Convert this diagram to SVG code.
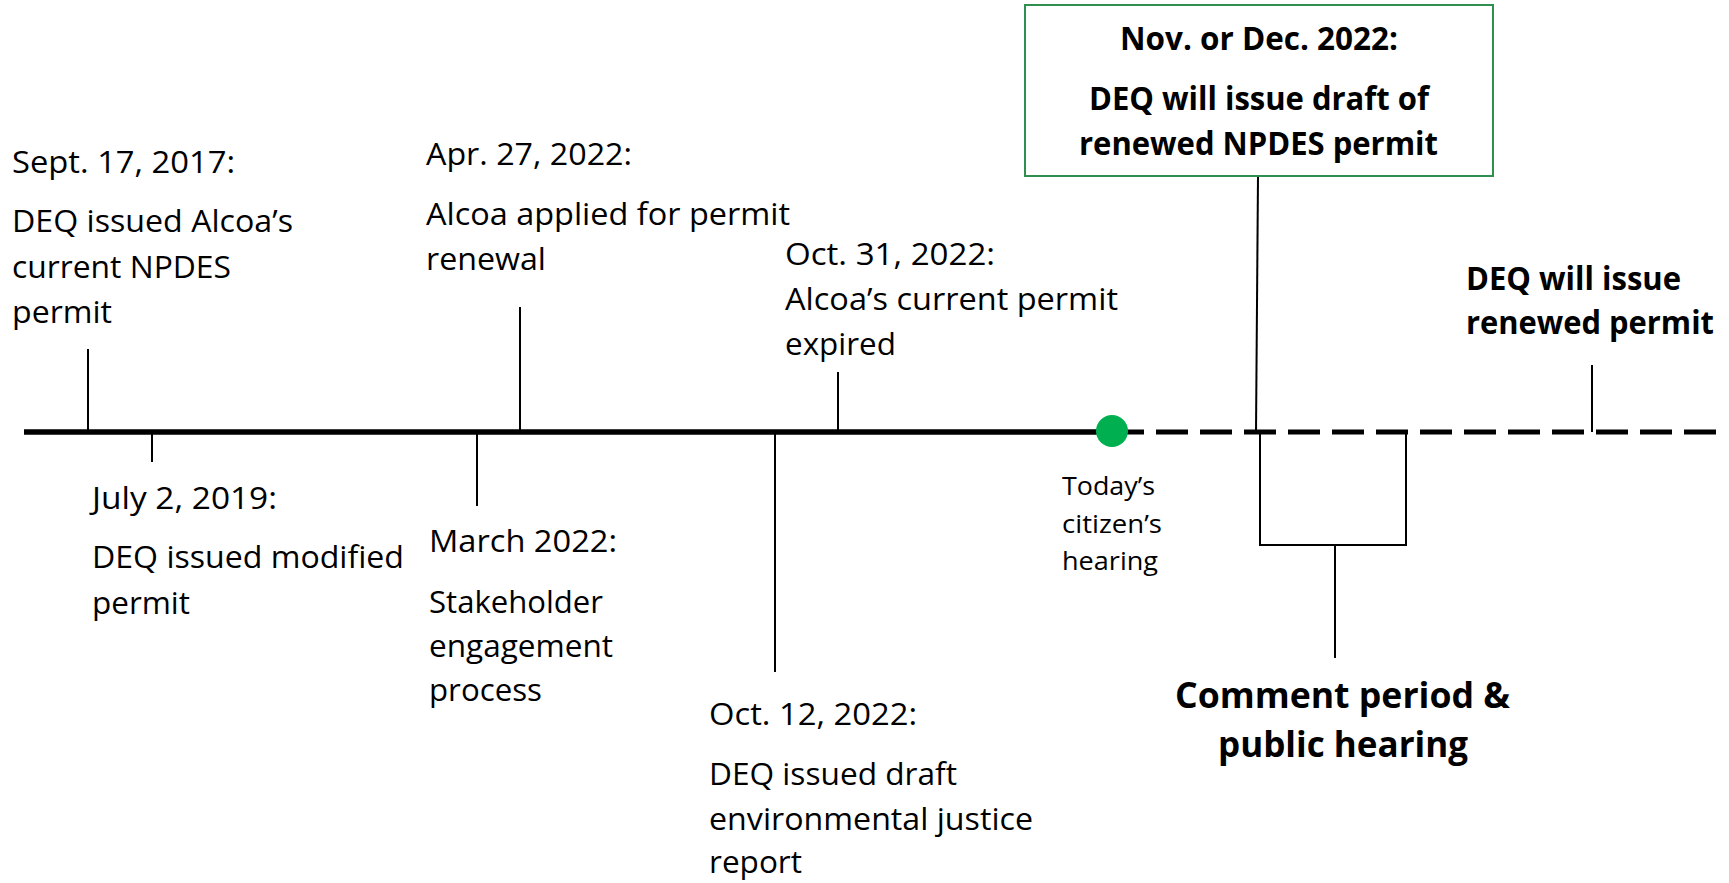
<svg xmlns="http://www.w3.org/2000/svg" width="1729" height="883" viewBox="0 0 1729 883">
<style>
  .t { font-family: "Open Sans", "Noto Sans", "Liberation Sans", sans-serif; font-size: 31px; fill: #000; }
  .s { font-family: "Open Sans", "Noto Sans", "Liberation Sans", sans-serif; font-size: 26px; fill: #000; }
  .b { font-family: "Open Sans", "Noto Sans", "Liberation Sans", sans-serif; font-size: 32px; font-weight: bold; fill: #000; }
  .bl { font-family: "Open Sans", "Noto Sans", "Liberation Sans", sans-serif; font-size: 35px; font-weight: bold; fill: #000; }
  .tick { stroke: #000; stroke-width: 2; fill: none; }
</style>
<rect width="1729" height="883" fill="#fff"/>

<g id="connectors">
  <line x1="24" y1="432" x2="1112" y2="432" stroke="#000" stroke-width="5.5"/>
  <line x1="1112" y1="432" x2="1716" y2="432" stroke="#000" stroke-width="5" stroke-dasharray="32 12"/>
  <line class="tick" x1="88" y1="349" x2="88" y2="432"/>
  <line class="tick" x1="152" y1="432" x2="152" y2="462"/>
  <line class="tick" x1="477" y1="432" x2="477" y2="506"/>
  <line class="tick" x1="520" y1="307" x2="520" y2="432"/>
  <line class="tick" x1="775" y1="432" x2="775" y2="672"/>
  <line class="tick" x1="838" y1="372" x2="838" y2="432"/>
  <line class="tick" x1="1258" y1="176" x2="1256" y2="432"/>
  <polyline class="tick" points="1260,432 1260,545 1406,545 1406,432"/>
  <line class="tick" x1="1335" y1="545" x2="1335" y2="658"/>
  <line class="tick" x1="1592" y1="365" x2="1592" y2="432"/>
</g>

<g id="today-marker">
  <circle cx="1112" cy="431" r="16" fill="#00b050"/>
</g>

<g id="node-sept2017">
  <text class="t" x="12" y="173" textLength="223" lengthAdjust="spacingAndGlyphs">Sept. 17, 2017:</text>
  <text class="t" x="12" y="232" textLength="281" lengthAdjust="spacingAndGlyphs">DEQ issued Alcoa’s</text>
  <text class="t" x="12" y="278" textLength="219" lengthAdjust="spacingAndGlyphs">current NPDES</text>
  <text class="t" x="12" y="323" textLength="100" lengthAdjust="spacingAndGlyphs">permit</text>
</g>

<g id="node-july2019">
  <text class="t" x="92" y="509" textLength="185" lengthAdjust="spacingAndGlyphs">July 2, 2019:</text>
  <text class="t" x="92" y="568" textLength="312" lengthAdjust="spacingAndGlyphs">DEQ issued modified</text>
  <text class="t" x="92" y="614" textLength="98" lengthAdjust="spacingAndGlyphs">permit</text>
</g>

<g id="node-apr2022">
  <text class="t" x="426" y="165" textLength="206" lengthAdjust="spacingAndGlyphs">Apr. 27, 2022:</text>
  <text class="t" x="426" y="225" textLength="364" lengthAdjust="spacingAndGlyphs">Alcoa applied for permit</text>
  <text class="t" x="426" y="270" textLength="120" lengthAdjust="spacingAndGlyphs">renewal</text>
</g>

<g id="node-march2022">
  <text class="t" x="429" y="552" textLength="188" lengthAdjust="spacingAndGlyphs">March 2022:</text>
  <text class="t" x="429" y="613" textLength="174" lengthAdjust="spacingAndGlyphs">Stakeholder</text>
  <text class="t" x="429" y="657" textLength="184" lengthAdjust="spacingAndGlyphs">engagement</text>
  <text class="t" x="429" y="701" textLength="113" lengthAdjust="spacingAndGlyphs">process</text>
</g>

<g id="node-oct31">
  <text class="t" x="785" y="265" textLength="210" lengthAdjust="spacingAndGlyphs">Oct. 31, 2022:</text>
  <text class="t" x="785" y="310" textLength="333" lengthAdjust="spacingAndGlyphs">Alcoa’s current permit</text>
  <text class="t" x="785" y="355" textLength="111" lengthAdjust="spacingAndGlyphs">expired</text>
</g>

<g id="node-oct12">
  <text class="t" x="709" y="725" textLength="208" lengthAdjust="spacingAndGlyphs">Oct. 12, 2022:</text>
  <text class="t" x="709" y="785" textLength="248" lengthAdjust="spacingAndGlyphs">DEQ issued draft</text>
  <text class="t" x="709" y="830" textLength="324" lengthAdjust="spacingAndGlyphs">environmental justice</text>
  <text class="t" x="709" y="873" textLength="93" lengthAdjust="spacingAndGlyphs">report</text>
</g>

<g id="node-today">
  <text class="s" x="1062" y="495" textLength="93" lengthAdjust="spacingAndGlyphs">Today’s</text>
  <text class="s" x="1062" y="533" textLength="100" lengthAdjust="spacingAndGlyphs">citizen’s</text>
  <text class="s" x="1062" y="570" textLength="96" lengthAdjust="spacingAndGlyphs">hearing</text>
</g>

<g id="node-draft-permit">
  <rect x="1025" y="5" width="468" height="171" fill="#fff" stroke="#2f8f4f" stroke-width="2"/>
  <text class="b" x="1120" y="50" textLength="278" lengthAdjust="spacingAndGlyphs">Nov. or Dec. 2022:</text>
  <text class="b" x="1089" y="110" textLength="340" lengthAdjust="spacingAndGlyphs">DEQ will issue draft of</text>
  <text class="b" x="1079" y="155" textLength="359" lengthAdjust="spacingAndGlyphs">renewed NPDES permit</text>
</g>

<g id="node-renewed">
  <text class="b" x="1466" y="290" textLength="215" lengthAdjust="spacingAndGlyphs">DEQ will issue</text>
  <text class="b" x="1466" y="334" textLength="248" lengthAdjust="spacingAndGlyphs">renewed permit</text>
</g>

<g id="node-comment">
  <text class="bl" x="1175" y="708" textLength="335" lengthAdjust="spacingAndGlyphs">Comment period &amp;</text>
  <text class="bl" x="1218" y="757" textLength="250" lengthAdjust="spacingAndGlyphs">public hearing</text>
</g>
</svg>
